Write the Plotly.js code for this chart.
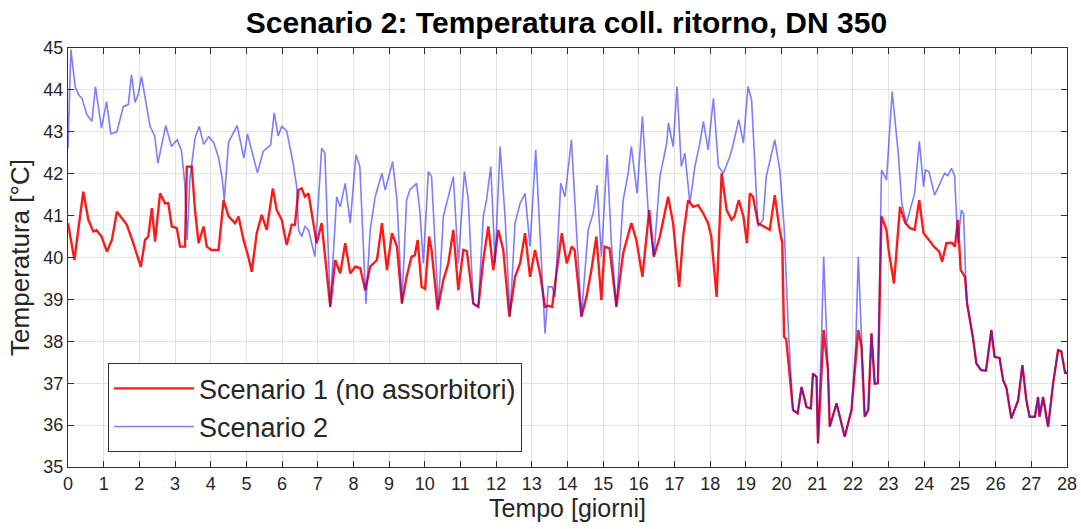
<!DOCTYPE html>
<html>
<head>
<meta charset="utf-8">
<script src="https://cdn.plot.ly/plotly-3.0.1.min.js"></script>
<style>html,body{margin:0;padding:0;background:#fff}#chart{width:1081px;height:529px}</style>
</head>
<body>
<div id="chart"></div>
<script>
// Scenario 1 (no assorbitori) — time [days], temperature [°C]
const s1Days = [0.0,0.1,0.18,0.3,0.43,0.57,0.71,0.8,0.94,1.09,1.23,1.37,1.51,1.65,1.83,2.04,2.16,2.25,2.35,2.44,2.58,2.72,2.81,2.91,3.05,3.14,3.28,3.33,3.47,3.56,3.66,3.8,3.89,4.02,4.22,4.36,4.5,4.68,4.78,4.92,5.06,5.15,5.29,5.43,5.57,5.74,5.85,5.99,6.13,6.27,6.36,6.46,6.55,6.64,6.74,6.83,6.97,7.11,7.2,7.35,7.49,7.63,7.77,7.91,8.05,8.19,8.33,8.47,8.66,8.8,8.94,9.08,9.22,9.36,9.49,9.63,9.72,9.8,9.91,10.01,10.12,10.19,10.36,10.52,10.66,10.8,10.94,11.08,11.18,11.36,11.5,11.64,11.78,11.92,12.06,12.2,12.37,12.53,12.67,12.81,12.95,13.09,13.23,13.37,13.46,13.57,13.7,13.84,13.98,14.12,14.2,14.39,14.53,14.67,14.81,14.95,15.04,15.18,15.37,15.56,15.79,15.93,16.1,16.29,16.42,16.59,16.82,16.96,17.13,17.24,17.38,17.52,17.66,17.8,17.94,18.03,18.18,18.32,18.46,18.6,18.68,18.8,18.93,19.03,19.11,19.2,19.34,19.48,19.67,19.81,19.93,20.02,20.07,20.13,20.32,20.45,20.56,20.7,20.82,20.88,20.98,21.02,21.12,21.18,21.3,21.35,21.54,21.77,21.96,22.08,22.15,22.24,22.33,22.43,22.52,22.61,22.7,22.8,22.94,23.0,23.15,23.32,23.47,23.6,23.73,23.86,23.98,24.13,24.27,24.42,24.5,24.62,24.77,24.86,24.94,25.02,25.14,25.2,25.36,25.46,25.59,25.73,25.88,25.97,26.11,26.21,26.3,26.44,26.63,26.75,26.86,26.95,27.1,27.19,27.23,27.33,27.47,27.61,27.75,27.84,27.95,28.0];
const s1Temp = [40.82,40.34,39.94,40.74,41.57,40.9,40.62,40.65,40.5,40.14,40.42,41.09,40.94,40.78,40.34,39.78,40.42,40.5,41.18,40.38,41.53,41.29,41.3,40.74,40.7,40.26,40.26,42.17,42.17,41.13,40.34,40.74,40.26,40.18,40.18,41.37,40.98,40.82,40.98,40.42,40.0,39.66,40.58,41.02,40.66,41.65,41.13,40.9,40.3,40.78,40.78,41.61,41.65,41.45,41.53,41.06,40.34,40.82,40.02,38.82,39.94,39.62,40.34,39.62,39.78,39.75,39.22,39.78,39.94,40.82,39.7,40.58,40.26,38.9,39.54,40.02,40.05,40.42,39.3,39.25,40.5,40.18,38.75,39.46,39.86,40.66,39.22,40.18,40.15,38.9,38.82,39.94,40.74,39.7,40.66,40.18,38.59,39.54,39.86,40.58,39.54,40.18,39.62,38.82,38.85,38.82,39.7,40.58,39.86,40.26,40.18,38.59,39.06,39.7,40.5,38.98,40.26,40.22,38.82,40.1,40.82,40.42,39.54,41.13,40.02,40.5,41.45,40.82,39.3,40.5,41.37,41.21,41.25,41.06,40.82,40.5,39.06,42.01,41.13,40.9,40.98,41.37,40.98,40.34,41.53,41.45,40.82,40.75,40.66,41.49,40.74,40.34,38.11,38.05,36.36,36.28,36.91,36.43,36.4,37.23,37.15,35.56,37.5,38.27,37.31,35.96,36.52,35.72,36.36,37.5,38.27,37.87,36.2,36.36,38.19,36.99,37.0,40.98,40.66,40.18,39.38,41.21,40.82,40.7,40.66,41.37,40.58,40.42,40.26,40.14,39.9,40.34,40.35,40.26,40.9,39.7,39.54,38.9,38.11,37.47,37.31,37.3,38.27,37.63,37.6,37.07,36.9,36.16,36.59,37.43,36.6,36.2,36.2,36.67,36.2,36.67,35.96,36.99,37.79,37.76,37.23,37.27];

// Scenario 2 — time [days], temperature [°C]
const s2Days = [0.0,0.08,0.2,0.3,0.39,0.53,0.67,0.77,0.85,0.94,1.08,1.2,1.37,1.55,1.69,1.78,1.88,1.97,2.06,2.16,2.3,2.43,2.52,2.74,2.9,3.06,3.18,3.27,3.34,3.42,3.56,3.68,3.8,3.94,4.08,4.22,4.32,4.38,4.5,4.74,4.93,5.03,5.31,5.47,5.68,5.78,5.89,5.99,6.13,6.31,6.41,6.46,6.55,6.64,6.74,6.92,7.11,7.2,7.35,7.53,7.63,7.77,7.91,8.07,8.18,8.35,8.47,8.61,8.8,8.89,9.1,9.22,9.36,9.49,9.58,9.77,9.86,9.96,10.1,10.19,10.38,10.52,10.71,10.8,10.94,11.11,11.22,11.36,11.5,11.64,11.73,11.85,11.97,12.11,12.25,12.39,12.53,12.67,12.81,12.95,13.11,13.23,13.37,13.46,13.57,13.65,13.81,13.93,14.11,14.25,14.39,14.58,14.72,14.83,14.95,15.11,15.23,15.37,15.56,15.7,15.79,15.95,16.1,16.26,16.42,16.59,16.78,16.83,16.96,17.07,17.19,17.29,17.43,17.57,17.71,17.81,17.94,18.09,18.23,18.37,18.55,18.64,18.8,18.93,19.06,19.16,19.34,19.48,19.57,19.81,19.95,20.07,20.2,20.32,20.45,20.56,20.7,20.82,20.88,20.98,21.02,21.12,21.18,21.3,21.35,21.54,21.77,21.96,22.08,22.15,22.24,22.33,22.43,22.52,22.61,22.7,22.8,22.94,23.1,23.27,23.37,23.5,23.6,23.73,23.86,23.98,24.03,24.13,24.29,24.43,24.57,24.66,24.76,24.85,24.94,25.04,25.1,25.16,25.2,25.36,25.46,25.59,25.73,25.88,25.97,26.11,26.21,26.3,26.44,26.63,26.75,26.86,26.95,27.1,27.19,27.23,27.33,27.47,27.61,27.75,27.84,27.95,28.0];
const s2Temp = [42.6,44.96,44.08,43.88,43.8,43.41,43.25,44.08,43.6,43.09,43.72,42.95,43.0,43.6,43.65,44.36,43.7,43.9,44.32,43.84,43.13,42.9,42.25,43.15,42.65,42.81,42.55,41.8,40.42,41.9,42.85,43.13,42.7,42.88,42.75,42.38,41.9,41.37,42.75,43.15,42.37,42.95,42.02,42.53,42.69,43.45,42.9,43.13,43.02,42.25,41.69,40.66,40.5,40.74,40.66,40.02,42.61,42.49,38.82,41.45,41.21,41.77,40.82,42.45,42.17,38.9,40.66,41.45,42.01,41.61,42.29,41.37,38.9,41.37,41.61,41.77,41.13,39.86,42.05,41.93,38.82,40.98,41.61,41.93,39.86,42.05,41.37,38.9,38.82,40.98,41.37,42.17,39.86,42.65,40.98,38.59,40.82,41.29,41.53,40.26,42.57,40.66,38.19,39.3,39.3,39.06,41.77,41.45,42.81,40.66,38.59,40.66,41.06,41.73,40.02,42.45,40.34,38.82,41.37,42.01,42.65,41.53,43.37,41.13,40.02,41.93,42.73,43.21,42.65,44.08,42.17,42.49,41.29,42.17,42.73,43.25,42.57,43.8,42.17,42.01,42.41,42.69,43.29,42.73,44.08,43.76,40.74,40.9,41.93,42.81,42.09,40.74,38.11,36.36,36.28,36.91,36.43,36.4,37.23,37.15,35.56,38.11,40.02,37.31,35.96,36.52,35.72,36.36,37.95,40.02,37.87,36.2,36.36,38.19,36.99,37.0,42.09,41.85,43.96,42.49,41.29,40.82,41.13,41.53,42.77,41.69,42.09,42.05,41.49,41.77,42.01,41.95,42.13,41.95,40.34,41.13,41.05,39.54,38.9,38.11,37.47,37.31,37.3,38.27,37.63,37.6,37.07,36.9,36.16,36.59,37.43,36.6,36.2,36.2,36.67,36.2,36.67,35.96,36.99,37.79,37.76,37.23,37.27];

const seriesNames = ['Scenario 1 (no assorbitori)', 'Scenario 2'];
const xTickVals = [0,1,2,3,4,5,6,7,8,9,10,11,12,13,14,15,16,17,18,19,20,21,22,23,24,25,26,27,28];
const yTickVals = [35,36,37,38,39,40,41,42,43,44,45];

const FONT = 'Liberation Sans, Arial, Helvetica, sans-serif';
const axisCommon = {
  showgrid: true, gridcolor: '#e3e3e3', gridwidth: 1,
  showline: true, linecolor: '#303030', linewidth: 1, mirror: 'ticks',
  ticks: 'inside', ticklen: 6, tickcolor: '#303030', tickwidth: 1,
  tickfont: {family: FONT, size: 18, color: '#262626'},
  zeroline: false, fixedrange: true, automargin: false
};

const traces = [
  {x: s1Days, y: s1Temp, name: seriesNames[0], type: 'scatter', mode: 'lines',
   line: {color: '#ff1a1a', width: 2.4}},
  {x: s2Days, y: s2Temp, name: seriesNames[1], type: 'scatter', mode: 'lines',
   line: {color: 'rgba(20,20,255,0.55)', width: 1.6}}
];

const layout = {
  width: 1081, height: 529,
  margin: {l: 68, r: 14, t: 48, b: 62},
  paper_bgcolor: '#ffffff', plot_bgcolor: '#ffffff',
  title: {text: '<b>Scenario 2: Temperatura coll. ritorno, DN 350</b>',
          font: {family: FONT, size: 30, color: '#000'}, x: 0.524, xanchor: 'center', y: 0.957, yanchor: 'middle'},
  xaxis: Object.assign({}, axisCommon, {range: [0, 28], tickvals: xTickVals,
    title: {text: 'Tempo [giorni]', font: {family: FONT, size: 25, color: '#262626'}, standoff: 4}}),
  yaxis: Object.assign({}, axisCommon, {range: [35, 45], tickvals: yTickVals,
    title: {text: 'Temperatura [°C]', font: {family: FONT, size: 26, color: '#262626'}, standoff: 6}}),
  showlegend: true,
  legend: {x: 0.04, y: 0.035, xanchor: 'left', yanchor: 'bottom',
    bgcolor: '#ffffff', bordercolor: '#303030', borderwidth: 1,
    font: {family: FONT, size: 27, color: '#262626'}, itemwidth: 80, tracegroupgap: 0}
};

Plotly.newPlot('chart', traces, layout, {displayModeBar: false, staticPlot: true});
</script>
</body>
</html>
